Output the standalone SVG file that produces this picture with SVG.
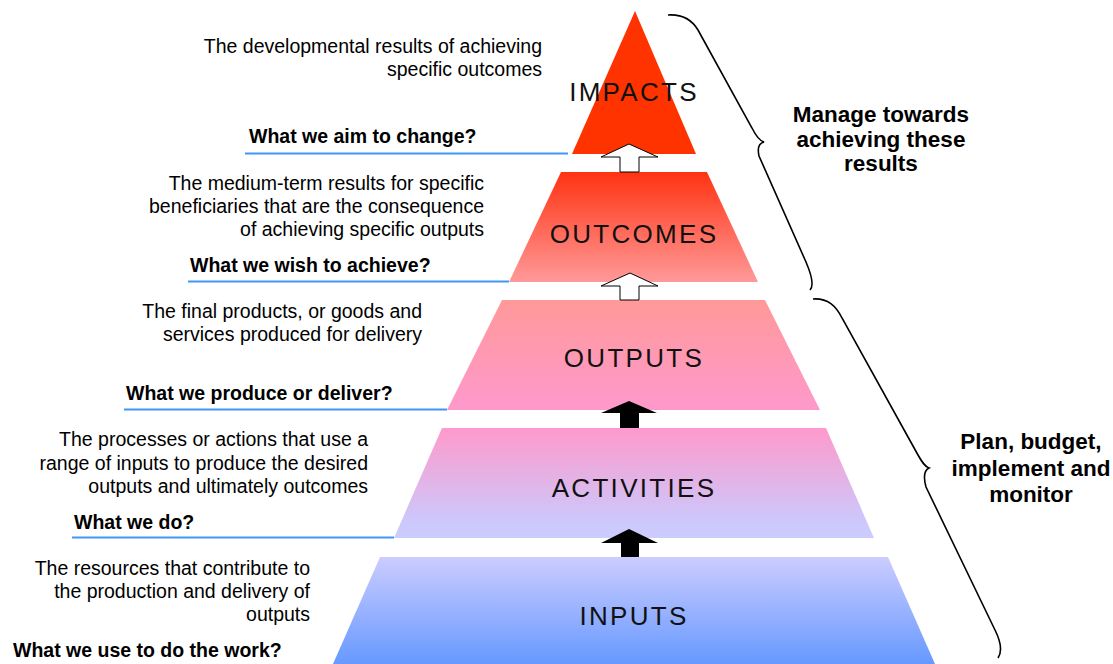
<svg xmlns="http://www.w3.org/2000/svg" width="1113" height="664" viewBox="0 0 1113 664">
<style>
.lbl{font-family:"Liberation Sans",Arial,sans-serif;font-size:26px;letter-spacing:2.3px;fill:#111;text-anchor:middle}
.desc{font-family:"Liberation Sans",Arial,sans-serif;font-size:19.5px;fill:#000;text-anchor:end}
.q{font-family:"Liberation Sans",Arial,sans-serif;font-size:19.5px;font-weight:bold;fill:#000}
.side{font-family:"Liberation Sans",Arial,sans-serif;font-size:22.5px;font-weight:bold;fill:#000;text-anchor:middle}
.bl{stroke:#3F97F5;stroke-width:1.8;fill:none}
.brace{stroke:#000;stroke-width:1.6;fill:none}
.wa{fill:#fff;stroke:#000;stroke-width:1}
.ba{fill:#000}
</style>
<defs>
<linearGradient id="gOut" x1="0" y1="0" x2="0" y2="1"><stop offset="0" stop-color="#FF3311"/><stop offset="1" stop-color="#FF9999"/></linearGradient>
<linearGradient id="gOutp" x1="0" y1="0" x2="0" y2="1"><stop offset="0" stop-color="#FF9999"/><stop offset="1" stop-color="#FF99CC"/></linearGradient>
<linearGradient id="gAct" x1="0" y1="0" x2="0" y2="1"><stop offset="0" stop-color="#FF99CC"/><stop offset="0.85" stop-color="#CCC8FC"/><stop offset="1" stop-color="#CCCCFF"/></linearGradient>
<linearGradient id="gIn" x1="0" y1="0" x2="0" y2="1"><stop offset="0" stop-color="#CCCCFF"/><stop offset="1" stop-color="#6699FF"/></linearGradient>
</defs>

<g id="impacts">
<polygon points="635,11 572,154 696,154" fill="#FF3300"/>
<text class="lbl" x="634" y="101">IMPACTS</text>
</g>
<g id="outcomes">
<polygon points="561,172 707,172 758,282 509,282" fill="url(#gOut)"/>
<text class="lbl" x="634" y="243">OUTCOMES</text>
</g>
<g id="outputs">
<polygon points="502,300 765,300 820,410 447,410" fill="url(#gOutp)"/>
<text class="lbl" x="634" y="367">OUTPUTS</text>
</g>
<g id="activities">
<polygon points="442,428 826,428 874,538 394,538" fill="url(#gAct)"/>
<text class="lbl" x="634" y="497">ACTIVITIES</text>
</g>
<g id="inputs">
<polygon points="380,557 888,557 935,664 333,664" fill="url(#gIn)"/>
<text class="lbl" x="634" y="625">INPUTS</text>
</g>

<g id="connectors">
<polygon class="wa" points="629,144 658,157 639,157 639,172 620,172 620,157 601,157"/>
<polygon class="wa" points="630,273 658,286 639,286 639,300 620,300 620,286 601,286"/>
<polygon class="ba" points="629,401 657,413 639,413 639,428 620,428 620,413 601,413"/>
<polygon class="ba" points="629,529 658,543 639,543 639,557 621,557 621,543 601,543"/>
<line class="bl" x1="245" y1="153.5" x2="568" y2="153.5"/>
<line class="bl" x1="188" y1="281.5" x2="509" y2="281.5"/>
<line class="bl" x1="124" y1="409.5" x2="447" y2="409.5"/>
<line class="bl" x1="72" y1="537.5" x2="394" y2="537.5"/>
</g>

<g id="brace-top">
<path class="brace" d="M668,15 C683,14 692,20 698,30 L752,128 C756,136 760,141 764,142 C760,143 757,147 759,156 L806,262 C812,276 814,286 810,290"/>
<text class="side" x="881" y="122">Manage towards</text>
<text class="side" x="881" y="147">achieving these</text>
<text class="side" x="881" y="171">results</text>
</g>
<g id="brace-bottom">
<path class="brace" d="M813,299 C828,298 836,306 842,318 L918,455 C922,462 925,467 929,468 C925,470 923,476 926,487 L995,630 C1001,642 1002,652 998,658"/>
<text class="side" x="1031" y="449">Plan, budget,</text>
<text class="side" x="1031" y="476">implement and</text>
<text class="side" x="1031" y="502">monitor</text>
</g>

<g id="desc-impacts">
<text class="desc" x="542" y="52.5">The developmental results of achieving</text>
<text class="desc" x="542" y="75.5">specific outcomes</text>
<text class="q" x="249" y="143">What we aim to change?</text>
</g>
<g id="desc-outcomes">
<text class="desc" x="484" y="190">The medium-term results for specific</text>
<text class="desc" x="484" y="213">beneficiaries that are the consequence</text>
<text class="desc" x="484" y="236">of achieving specific outputs</text>
<text class="q" x="190" y="271.5">What we wish to achieve?</text>
</g>
<g id="desc-outputs">
<text class="desc" x="422" y="318">The final products, or goods and</text>
<text class="desc" x="422" y="341">services produced for delivery</text>
<text class="q" x="126" y="399.5">What we produce or deliver?</text>
</g>
<g id="desc-activities">
<text class="desc" x="368" y="446">The processes or actions that use a</text>
<text class="desc" x="368" y="470">range of inputs to produce the desired</text>
<text class="desc" x="368" y="493">outputs and ultimately outcomes</text>
<text class="q" x="74" y="528.5">What we do?</text>
</g>
<g id="desc-inputs">
<text class="desc" x="310" y="575">The resources that contribute to</text>
<text class="desc" x="310" y="598">the production and delivery of</text>
<text class="desc" x="310" y="621">outputs</text>
<text class="q" x="13" y="656.5">What we use to do the work?</text>
</g>
</svg>
